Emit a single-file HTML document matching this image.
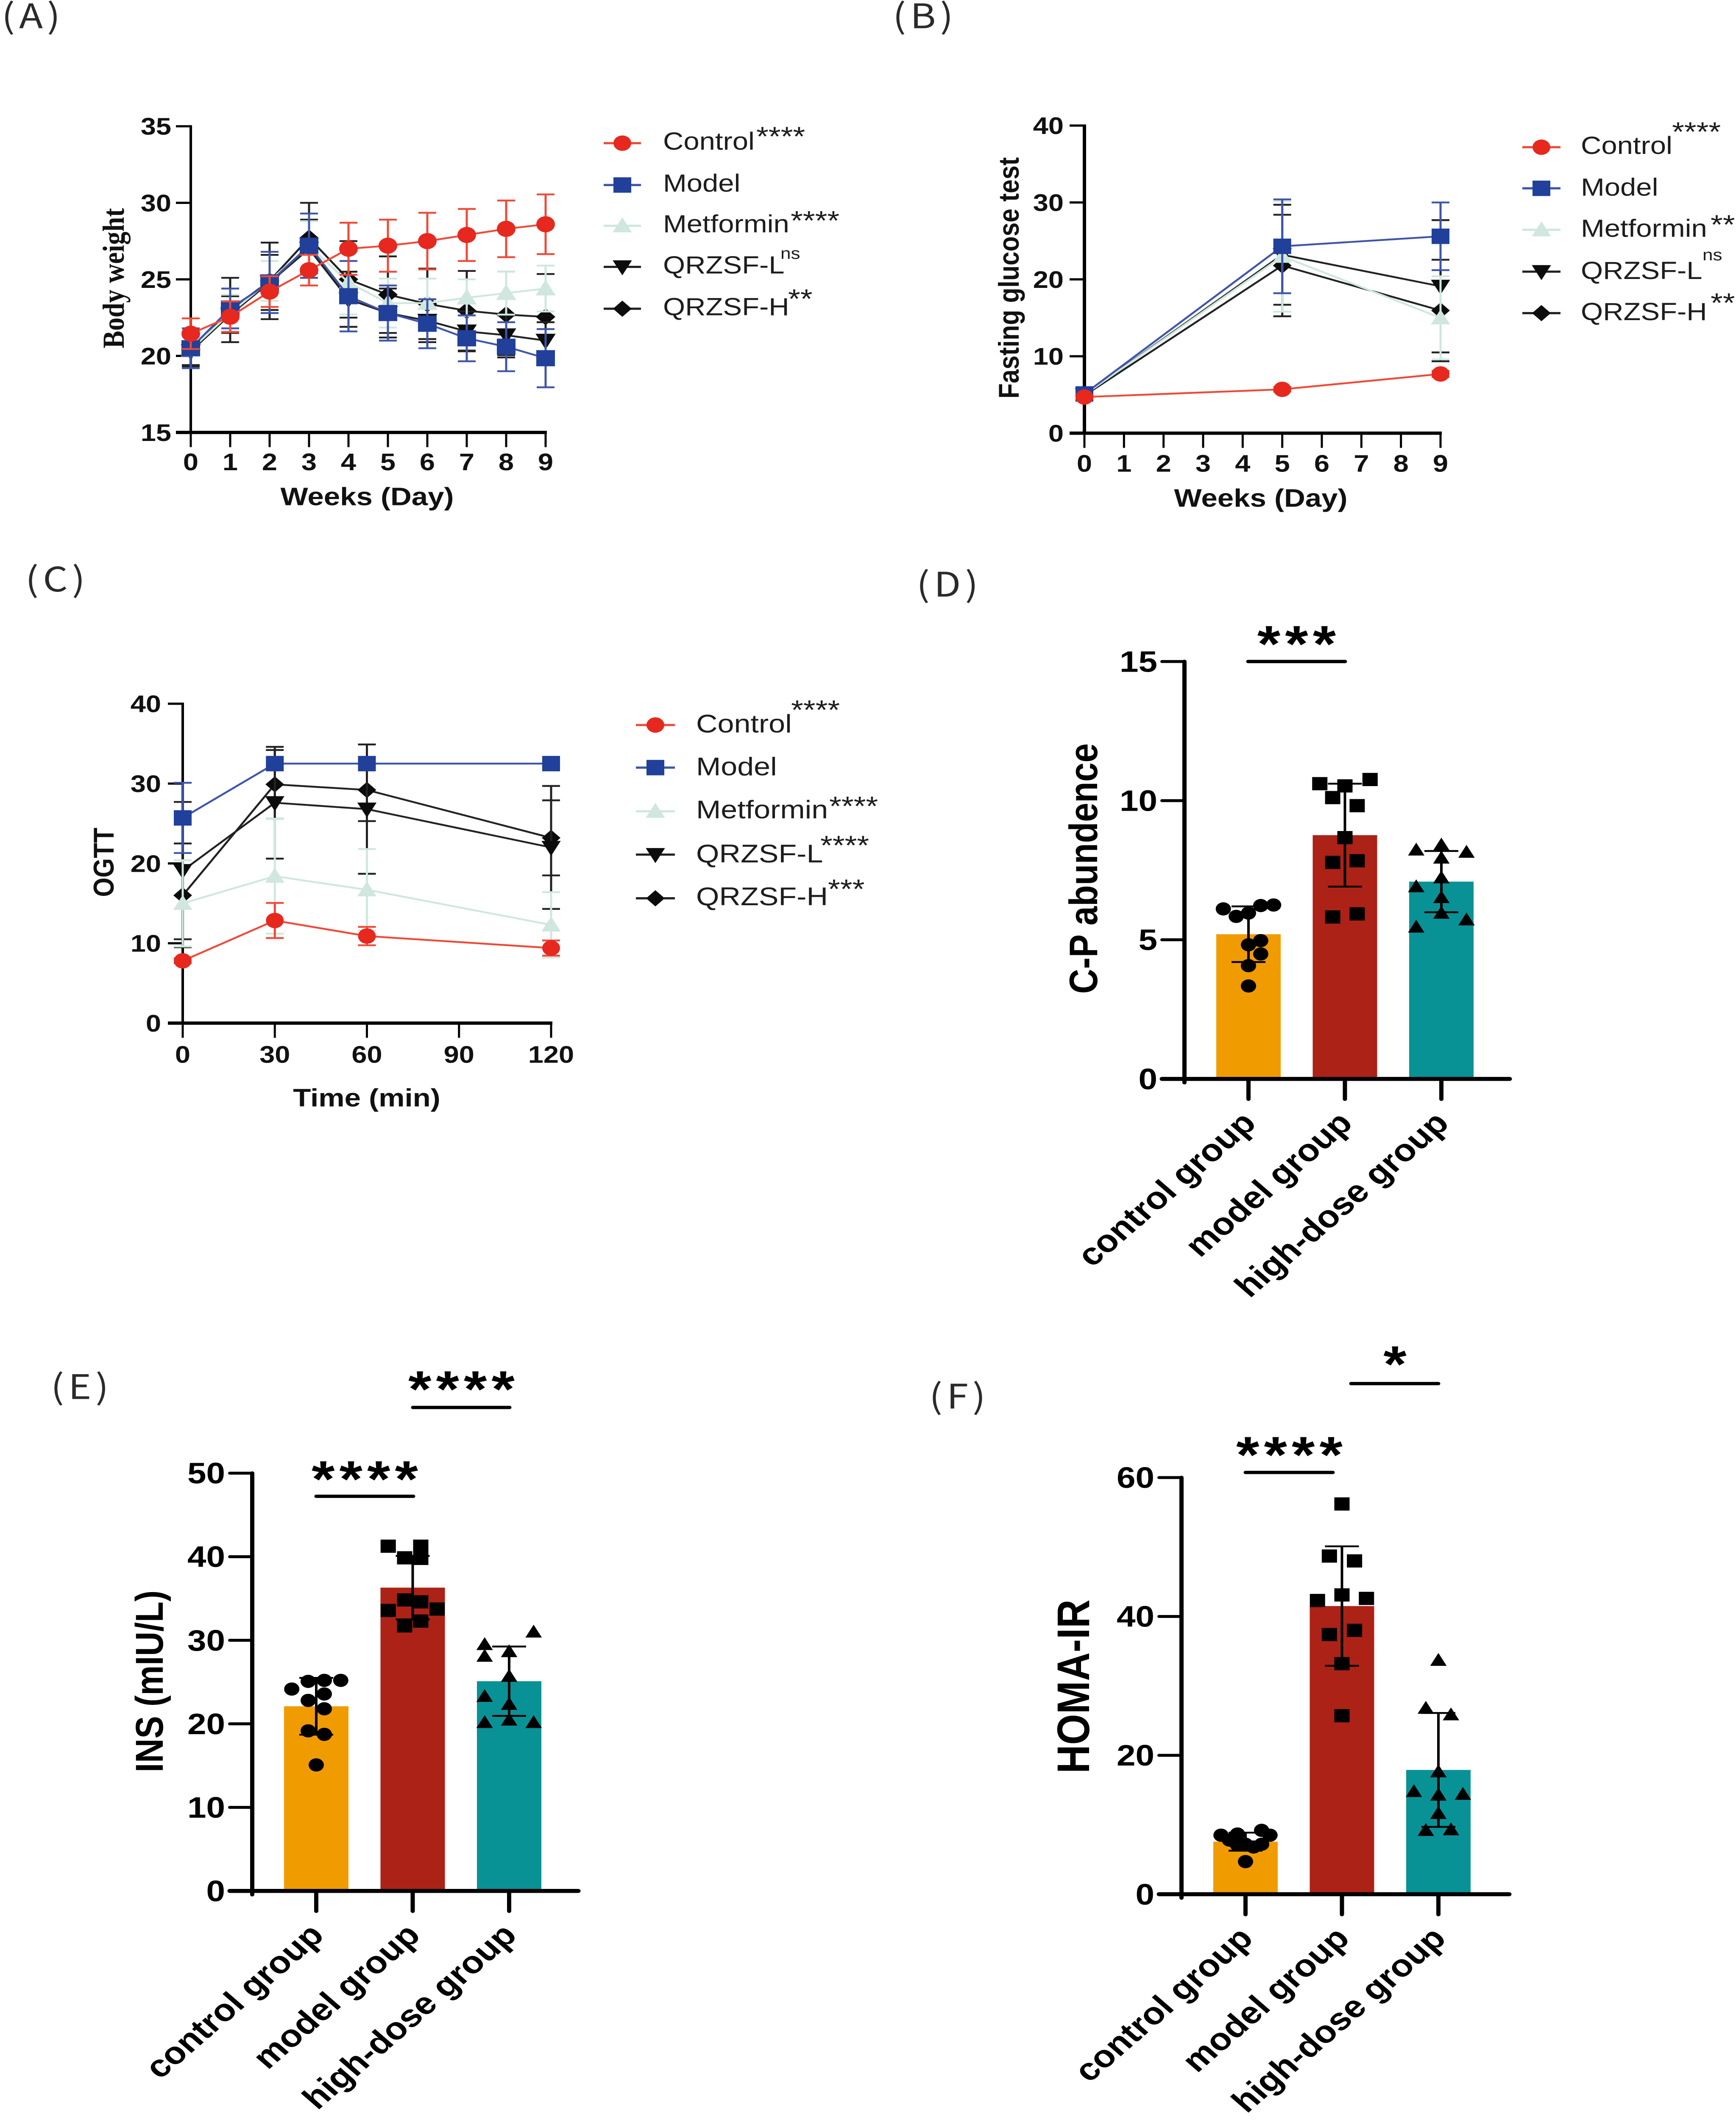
<!DOCTYPE html>
<html lang="en">
<head>
<meta charset="utf-8">
<title>Six-panel metabolic chart figure</title>
<style>
html,body{margin:0;padding:0;background:#fff;width:100%;height:100%;overflow:hidden;}
svg{display:block;width:100%;height:100%;}
text{font-family:"Liberation Sans","Noto Sans CJK JP",sans-serif;}
.panel{font-family:"Noto Sans CJK JP","Liberation Sans",sans-serif;font-size:92px;fill:#2a2a2a;font-weight:400;letter-spacing:10px;}
.leg{font-size:67px;fill:#1d1d1d;}
.legc{font-size:70px;fill:#1d1d1d;}
.sup{font-size:74px;fill:#1d1d1d;}
.ns{font-size:44px;fill:#1d1d1d;}
.title{font-size:69px;font-weight:bold;fill:#111;text-anchor:middle;}
.sig{font-size:140px;font-weight:bold;fill:#000;text-anchor:middle;letter-spacing:11px;}
.sigbar{stroke:#000;stroke-width:9;stroke-linecap:round;}
</style>
</head>
<body>
<svg id="fig" xmlns="http://www.w3.org/2000/svg" viewBox="0 0 4095 5775" preserveAspectRatio="none">
<rect width="4095" height="5775" fill="#fff"/>

<text class="panel" x="4" y="77">(A)</text>
<text class="panel" x="2106" y="77">(B)</text>
<text class="panel" x="60" y="1611">(C)</text>
<text class="panel" x="2162" y="1625">(D)</text>
<text class="panel" x="120" y="3811">(E)</text>
<text class="panel" x="2192" y="3837">(F)</text>

<!-- axis titles -->
<text x="0" y="0" transform="translate(292 758) rotate(-90)" text-anchor="middle" style="font-family:'Liberation Serif',serif;font-weight:bold;font-size:72px;fill:#111">Body weight</text>
<text class="title" x="866" y="1376">Weeks (Day)</text>
<text class="title" x="0" y="0" transform="translate(2403 757) rotate(-90)" style="font-size:68px">Fasting glucose test</text>
<text class="title" x="2974" y="1380">Weeks (Day)</text>
<text class="title" x="0" y="0" transform="translate(268 2349) rotate(-90)" style="font-size:68px">OGTT</text>
<text class="title" x="865" y="3014">Time (min)</text>
<text class="title" x="0" y="0" transform="translate(2588 2366) rotate(-90)" style="font-size:94px;fill:#000">C-P abundence</text>
<text class="title" x="0" y="0" transform="translate(384 4580) rotate(-90)" style="font-size:92px;fill:#000">INS (mIU/L)</text>
<text class="title" x="0" y="0" transform="translate(2569 4594) rotate(-90)" style="font-size:108px;fill:#000">HOMA-IR</text>

<!-- legend A -->
<g>
<text class="leg" x="1564" y="408">Control</text>
<text class="sup" x="1784" y="397">****</text>
<text class="leg" x="1564" y="522">Model</text>
<text class="leg" x="1564" y="633">Metformin</text>
<text class="sup" x="1865" y="626">****</text>
<text class="leg" x="1564" y="745">QRZSF-L</text>
<text class="ns" x="1841" y="705">ns</text>
<text class="leg" x="1564" y="859">QRZSF-H</text>
<text class="sup" x="1859" y="839">**</text>
</g>
<!-- legend B -->
<g>
<text class="leg" x="3729" y="419">Control</text>
<text class="sup" x="3944" y="384">****</text>
<text class="leg" x="3729" y="533">Model</text>
<text class="leg" x="3729" y="645">Metformin</text>
<text class="sup" x="4035" y="637">**</text>
<text class="leg" x="3729" y="760">QRZSF-L</text>
<text class="ns" x="4016" y="709">ns</text>
<text class="leg" x="3729" y="872">QRZSF-H</text>
<text class="sup" x="4035" y="850">**</text>
</g>
<!-- legend C -->
<g>
<text class="legc" x="1642" y="1995">Control</text>
<text class="sup" x="1866" y="1959">****</text>
<text class="legc" x="1642" y="2112">Model</text>
<text class="legc" x="1642" y="2229">Metformin</text>
<text class="sup" x="1956" y="2221">****</text>
<text class="legc" x="1642" y="2349">QRZSF-L</text>
<text class="sup" x="1935" y="2328">****</text>
<text class="legc" x="1642" y="2466">QRZSF-H</text>
<text class="sup" x="1953" y="2447">***</text>
</g>

<!-- significance annotations -->
<line class="sigbar" x1="2944" y1="1802" x2="3173" y2="1802"/>
<text class="sig" x="3064" y="1802">***</text>
<line class="sigbar" x1="746" y1="4076" x2="975" y2="4076"/>
<text class="sig" x="866" y="4077">****</text>
<line class="sigbar" x1="974" y1="3834" x2="1202" y2="3834"/>
<text class="sig" x="1094" y="3832">****</text>
<line class="sigbar" x1="2938" y1="4011" x2="3144" y2="4011"/>
<text class="sig" x="3047" y="4011">****</text>
<line class="sigbar" x1="3187" y1="3769" x2="3393" y2="3769"/>
<text class="sig" x="3296" y="3764">*</text>
</svg>

<script>
/* ---------- Panel A: body weight ---------- */
const aDays = [0,1,2,3,4,5,6,7,8,9];
const aYTicks = [15,20,25,30,35];
const aControl = [21.45,22.56,24.2,25.6,27.0,27.2,27.5,27.9,28.3,28.6];
const aControlSd = [1.0,1.0,1.0,1.0,1.7,1.7,1.85,1.7,1.85,1.95];
const aModel = [20.5,23.1,24.8,27.2,23.9,22.8,22.1,21.15,20.6,19.85];
const aModelSd = [1.3,1.3,2.0,2.1,2.3,1.8,1.6,1.5,1.6,1.9];
const aMetformin = [20.4,22.8,24.9,27.2,24.8,23.45,23.45,23.8,24.1,24.4];
const aMetforminSd = [1.2,1.2,1.3,1.6,2.1,1.6,1.6,1.2,1.4,1.5];
const aLow = [20.3,22.7,24.8,27.0,23.7,22.8,22.3,21.6,21.35,21.0];
const aLowSd = [1.0,1.2,1.8,1.9,1.8,1.6,1.4,1.3,1.3,1.2];
const aHigh = [20.4,23.0,24.9,27.7,25.0,24.0,23.4,22.95,22.7,22.55];
const aHighSd = [1.0,2.1,2.5,2.3,2.5,2.5,2.3,2.6,2.8,2.8];

/* ---------- Panel B: fasting glucose ---------- */
const bXTicks = [0,1,2,3,4,5,6,7,8,9];
const bDays = [0,5,9];
const bYTicks = [0,10,20,30,40];
const bControl = [4.7,5.7,7.7];
const bControlSd = [0.2,0.3,0.4];
const bModel = [5.1,24.3,25.6];
const bModelSd = [0.3,6.1,4.4];
const bMetformin = [5.0,23.0,15.0];
const bMetforminSd = [0.3,7.2,5.4];
const bLow = [5.0,23.2,19.1];
const bLowSd = [0.3,6.5,8.6];
const bHigh = [4.9,21.8,15.95];
const bHighSd = [0.3,6.6,6.6];

/* ---------- Panel C: OGTT ---------- */
const cXTicks = [0,30,60,90,120];
const cTimes = [0,30,60,120];
const cYTicks = [0,10,20,30,40];
const cControl = [7.8,12.85,10.9,9.4];
const cControlSd = [0.3,2.2,1.15,0.95];
const cModel = [25.7,32.5,32.5,32.5];
const cModelSd = [4.4,0,0,0];
const cMetformin = [15.0,18.4,16.7,12.3];
const cMetforminSd = [5.4,7.2,5.1,4.1];
const cLow = [19.1,27.6,26.8,22.0];
const cLowSd = [8.6,7.0,8.1,7.7];
const cHigh = [16.0,29.9,29.2,23.2];
const cHighSd = [6.5,4.3,3.9,4.7];

/* ---------- Bar panels ---------- */
const groupLabels = ['control group','model group','high-dose group'];

const dYTicks = [0,5,10,15];
const dMeans = [5.2,8.76,7.09];
const dSd = [1.0,1.85,1.1];
const dControlPoints = [6.11,5.84,5.96,6.23,6.25,4.97,4.82,4.49,4.07,3.34];
const dControlSwarm = [-0.78,-0.38,0,0.38,0.78,0.38,0,0.38,0,0];
const dModelPoints = [10.61,10.53,10.76,10.11,9.82,8.67,7.78,7.84,5.82,5.93];
const dModelSwarm = [-0.78,0,0.78,-0.38,0.38,0,-0.38,0.38,-0.38,0.38];
const dHighPoints = [8.23,8.41,8.15,7.94,7.23,6.91,6.52,5.96,5.46,5.72];
const dHighSwarm = [-0.78,0,0.78,0,0,-0.78,0,0,-0.78,0.78];

const eYTicks = [0,10,20,30,40,50];
const eMeans = [22.1,36.3,25.1];
const eSd = [3.4,3.8,4.15];
const eControlPoints = [24.16,25.08,25.2,25.2,22.8,23.57,21.8,19.16,18.74,15.08];
const eControlSwarm = [-0.76,-0.25,0.25,0.76,-0.25,0.25,0.25,-0.25,0.25,0];
const eModelPoints = [41.26,41.26,39.87,39.8,34.83,34.6,33.57,33.74,31.72,32.3];
const eModelSwarm = [-0.76,0.25,-0.25,0.25,-0.25,0.25,-0.76,0.76,-0.25,0.25];
const eHighPoints = [29.5,28.1,31.0,28.65,25.7,23.3,22.35,20.17,20.46,20.17];
const eHighSwarm = [-0.76,-0.76,0.76,0,0,-0.76,0,-0.76,0,0.76];

const fYTicks = [0,20,40,60];
const fMeans = [7.57,41.5,17.9];
const fSd = [1.3,8.6,8.2];
const fControlPoints = [8.5,7.8,8.67,7.1,7.2,6.8,9.2,8.5,7.2,4.7];
const fControlSwarm = [-0.76,-0.5,-0.25,-0.25,0,0.25,0.5,0.76,0.5,0];
const fModelPoints = [56.2,48.7,48.0,42.3,43.1,42.6,37.4,38.0,33.2,25.7];
const fModelSwarm = [0,-0.39,0.39,-0.76,0,0.76,-0.39,0.39,0,0];
const fHighPoints = [33.7,26.8,25.85,17.65,14.8,14.3,14.4,11.65,9.2,9.3];
const fHighSwarm = [0,-0.39,0.39,0,-0.76,0,0.76,0,-0.39,0.39];

/* ---------- helpers ---------- */
const NS = 'http://www.w3.org/2000/svg';
const fig = document.getElementById('fig');

function make(parent, tag, attrs, name, textContent) {
  const el = document.createElementNS(NS, tag);
  for (const k in attrs) el.setAttribute(k, attrs[k]);
  
  
  if (textContent !== undefined) el.textContent = textContent;
  parent.appendChild(el);
  return el;
}

function marker(parent, kind, x, y, r, color, name) {
  if (kind === 'circle') return make(parent, 'circle', {cx:x, cy:y, r:r, fill:color}, name);
  if (kind === 'square') return make(parent, 'rect', {x:x-r, y:y-r, width:2*r, height:2*r, fill:color}, name);
  let pts;
  if (kind === 'up') pts = [[x,y-r*1.1],[x+r*1.08,y+r*0.85],[x-r*1.08,y+r*0.85]];
  if (kind === 'down') pts = [[x,y+r*1.1],[x+r*1.08,y-r*0.85],[x-r*1.08,y-r*0.85]];
  if (kind === 'diamond') pts = [[x,y-r*1.05],[x+r*1.05,y],[x,y+r*1.05],[x-r*1.05,y]];
  return make(parent, 'polygon', {points: pts.map(p => p.join(',')).join(' '), fill:color}, name);
}

const seriesStyles = {
  control:  {kind:'circle', marker:'#e6281e', line:'#ee4a38', label:'control'},
  model:    {kind:'square', marker:'#20409a', line:'#3f55aa', label:'model'},
  metformin:{kind:'up',     marker:'#cfe7de', line:'#cfe7de', label:'metformin'},
  low:      {kind:'down',   marker:'#0c0c0c', line:'#222222', label:'qrzsf-l'},
  high:     {kind:'diamond',marker:'#0c0c0c', line:'#222222', label:'qrzsf-h'}
};

function lineAxes(g, prefix, c, xTicks, yTicks, xOf, yOf) {
  const ax = make(g, 'g', {}, prefix + '-axes');
  const sw = c.ySw;
  make(ax, 'line', {x1:c.x0, x2:c.x0, y1:yOf(yTicks[yTicks.length-1]) - 3, y2:yOf(yTicks[0]) + 4, stroke:'#000', 'stroke-width':sw}, prefix + '-y-axis');
  make(ax, 'line', {x1:c.x0 - 35, x2:xOf(xTicks[xTicks.length-1]) + 3, y1:yOf(yTicks[0]), y2:yOf(yTicks[0]), stroke:'#000', 'stroke-width':c.xSw}, prefix + '-x-axis');
  yTicks.forEach(t => {
    make(ax, 'line', {x1:c.x0 - 35, x2:c.x0, y1:yOf(t), y2:yOf(t), stroke:'#000', 'stroke-width':6}, prefix + '-y-tick');
    make(ax, 'text', {x:c.x0 - c.yLabelGap, y:yOf(t) + 23, 'text-anchor':'end', 'font-size':65, 'font-weight':'bold', fill:'#111'}, prefix + '-y-tick-label', t);
  });
  xTicks.forEach(t => {
    make(ax, 'line', {x1:xOf(t), x2:xOf(t), y1:yOf(yTicks[0]), y2:yOf(yTicks[0]) + 40, stroke:'#000', 'stroke-width':5}, prefix + '-x-tick');
    make(ax, 'text', {x:xOf(t), y:c.xLabelY, 'text-anchor':'middle', 'font-size':65, 'font-weight':'bold', fill:'#111'}, prefix + '-x-tick-label', t);
  });
}

function drawSeries(g, prefix, style, xs, ys, sds, xOf, yOf, r) {
  const sg = make(g, 'g', {}, prefix + '-series-' + style.label);
  const d = ys.map((v,i) => xOf(xs[i]) + ',' + yOf(v)).join(' ');
  make(sg, 'polyline', {points:d, fill:'none', stroke:style.line, 'stroke-width':5, 'stroke-linejoin':'round'}, prefix + '-line-' + style.label);
  ys.forEach((v,i) => {
    const sd = sds[i];
    if (sd > 0) {
      const x = xOf(xs[i]);
      make(sg, 'line', {x1:x, x2:x, y1:yOf(v-sd), y2:yOf(v+sd), stroke:style.line, 'stroke-width':5}, prefix + '-error-bar-' + style.label);
      make(sg, 'line', {x1:x-21, x2:x+21, y1:yOf(v+sd), y2:yOf(v+sd), stroke:style.line, 'stroke-width':5}, prefix + '-error-cap-upper-' + style.label);
      make(sg, 'line', {x1:x-21, x2:x+21, y1:yOf(v-sd), y2:yOf(v-sd), stroke:style.line, 'stroke-width':5}, prefix + '-error-cap-lower-' + style.label);
    }
  });
  ys.forEach((v,i) => {
    marker(sg, style.kind, xOf(xs[i]), yOf(v), r, style.marker, prefix + '-point-' + style.label);
  });
}

function legendMarks(prefix, cx, half, rows, r) {
  const g = make(fig, 'g', {}, prefix + '-legend-markers');
  ['control','model','metformin','low','high'].forEach((k,i) => {
    const s = seriesStyles[k];
    make(g, 'line', {x1:cx-half, x2:cx+half, y1:rows[i], y2:rows[i], stroke:s.line, 'stroke-width':6}, prefix + '-legend-line-' + s.label);
    marker(g, s.kind, cx, rows[i], r, s.marker, prefix + '-legend-marker-' + s.label);
  });
}

function lineChart(prefix, c, xTicks, yTicks, xs, data) {
  const xOf = v => c.x0 + (v - c.xMin) / (c.xMax - c.xMin) * (c.x1 - c.x0);
  const yOf = v => c.yBase - (v - c.yMin) / (c.yMax - c.yMin) * (c.yBase - c.yTop);
  const g = make(fig, 'g', {}, prefix + '-chart');
  lineAxes(g, prefix, c, xTicks, yTicks, xOf, yOf);
  drawSeries(g, prefix, seriesStyles.high, xs, data.high, data.highSd, xOf, yOf, c.r);
  drawSeries(g, prefix, seriesStyles.low, xs, data.low, data.lowSd, xOf, yOf, c.r);
  drawSeries(g, prefix, seriesStyles.metformin, xs, data.met, data.metSd, xOf, yOf, c.r);
  drawSeries(g, prefix, seriesStyles.model, xs, data.model, data.modelSd, xOf, yOf, c.r);
  drawSeries(g, prefix, seriesStyles.control, xs, data.control, data.controlSd, xOf, yOf, c.r);
}

const barColors = ['#f09c00','#ad2216','#089296'];
const pointKinds = ['circle','square','up'];

function barChart(prefix, c, yTicks, means, sds, pointSets, swarmSets) {
  const yOf = v => c.yBase - (v - yTicks[0]) / (yTicks[yTicks.length-1] - yTicks[0]) * (c.yBase - c.yTop);
  const xOf = i => c.first + i * c.step;
  const half = 76;
  const g = make(fig, 'g', {}, prefix + '-chart');

  means.forEach((m,i) => {
    make(g, 'rect', {x:xOf(i)-half, y:yOf(m), width:2*half, height:c.yBase-yOf(m), fill:barColors[i]}, prefix + '-bar-' + groupLabels[i].replace(' ','-'));
  });

  make(g, 'line', {x1:c.axisX, x2:c.axisX, y1:yOf(yTicks[yTicks.length-1]), y2:c.yBase + 10, stroke:'#000', 'stroke-width':10, 'stroke-linecap':'round'}, prefix + '-y-axis');
  make(g, 'line', {x1:c.axisX - 53, x2:c.xEnd, y1:c.yBase, y2:c.yBase, stroke:'#000', 'stroke-width':11, 'stroke-linecap':'round'}, prefix + '-x-axis');

  yTicks.forEach(t => {
    make(g, 'line', {x1:c.axisX - 53, x2:c.axisX, y1:yOf(t), y2:yOf(t), stroke:'#000', 'stroke-width':8, 'stroke-linecap':'round'}, prefix + '-y-tick');
    make(g, 'text', {x:c.axisX - 64, y:yOf(t) + 28, 'text-anchor':'end', 'font-size':80, 'font-weight':'bold', fill:'#000'}, prefix + '-y-tick-label', t);
  });

  groupLabels.forEach((lab,i) => {
    const x = xOf(i);
    make(g, 'line', {x1:x, x2:x, y1:c.yBase, y2:c.yBase + 55, stroke:'#000', 'stroke-width':10, 'stroke-linecap':'round'}, prefix + '-x-tick');
    make(g, 'text', {x:0, y:0, transform:'translate(' + (x + 22) + ' ' + (c.yBase + 125) + ') rotate(-45)', 'text-anchor':'end', 'font-size':85, 'font-weight':'bold', fill:'#000'}, prefix + '-x-tick-label', lab);
  });

  means.forEach((m,i) => {
    const x = xOf(i);
    const hi = yOf(m + sds[i]);
    const lo = yOf(m - sds[i]);
    make(g, 'line', {x1:x, x2:x, y1:hi, y2:lo, stroke:'#000', 'stroke-width':6}, prefix + '-error-bar');
    make(g, 'line', {x1:x-40, x2:x+40, y1:hi, y2:hi, stroke:'#000', 'stroke-width':5}, prefix + '-error-cap-upper');
    make(g, 'line', {x1:x-40, x2:x+40, y1:lo, y2:lo, stroke:'#000', 'stroke-width':5}, prefix + '-error-cap-lower');
    pointSets[i].forEach((v,j) => {
      marker(g, pointKinds[i], x + swarmSets[i][j] * half, yOf(v), 18, '#000', prefix + '-data-point-' + groupLabels[i].replace(' ','-'));
    });
  });
}

/* ---------- draw ---------- */
lineChart('a', {x0:450,x1:1287,xMin:0,xMax:9,yBase:1178,yTop:344,yMin:15,yMax:35,ySw:6,xSw:9,r:22,yLabelGap:46,xLabelY:1281},
  aDays, aYTicks, aDays,
  {control:aControl,controlSd:aControlSd,model:aModel,modelSd:aModelSd,met:aMetformin,metSd:aMetforminSd,low:aLow,lowSd:aLowSd,high:aHigh,highSd:aHighSd});
legendMarks('a', 1468, 44, [390,504,615,727,841], 21);

lineChart('b', {x0:2558,x1:3398,xMin:0,xMax:9,yBase:1180,yTop:342,yMin:0,yMax:40,ySw:8,xSw:9,r:21,yLabelGap:49,xLabelY:1285},
  bXTicks, bYTicks, bDays,
  {control:bControl,controlSd:bControlSd,model:bModel,modelSd:bModelSd,met:bMetformin,metSd:bMetforminSd,low:bLow,lowSd:bLowSd,high:bHigh,highSd:bHighSd});
legendMarks('b', 3636, 45, [401,513,626,740,853], 21);

lineChart('c', {x0:431,x1:1300,xMin:0,xMax:120,yBase:2787,yTop:1917,yMin:0,yMax:40,ySw:6,xSw:9,r:21,yLabelGap:51,xLabelY:2895},
  cXTicks, cYTicks, cTimes,
  {control:cControl,controlSd:cControlSd,model:cModel,modelSd:cModelSd,met:cMetformin,metSd:cMetforminSd,low:cLow,lowSd:cLowSd,high:cHigh,highSd:cHighSd});
legendMarks('c', 1546, 46, [1975,2091,2210,2328,2447], 21);

barChart('d', {axisX:2794,yBase:2939,yTop:1802,first:2945,step:227.5,xEnd:3561}, dYTicks, dMeans, dSd,
  [dControlPoints,dModelPoints,dHighPoints], [dControlSwarm,dModelSwarm,dHighSwarm]);
barChart('e', {axisX:595,yBase:5151,yTop:4013,first:746,step:227.5,xEnd:1364}, eYTicks, eMeans, eSd,
  [eControlPoints,eModelPoints,eHighPoints], [eControlSwarm,eModelSwarm,eHighSwarm]);
barChart('f', {axisX:2787,yBase:5160,yTop:4025,first:2938,step:227.5,xEnd:3560}, fYTicks, fMeans, fSd,
  [fControlPoints,fModelPoints,fHighPoints], [fControlSwarm,fModelSwarm,fHighSwarm]);
</script>
</body>
</html>
